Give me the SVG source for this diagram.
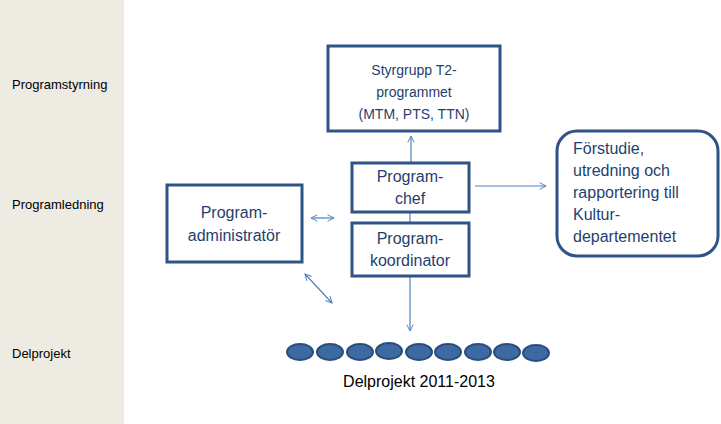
<svg xmlns="http://www.w3.org/2000/svg" width="721" height="424" viewBox="0 0 721 424">
<defs>
<marker id="a" viewBox="0 0 10 10" refX="9" refY="5" markerWidth="8" markerHeight="8" orient="auto-start-reverse" markerUnits="userSpaceOnUse"><path d="M1,1 L9,5 L1,9" fill="none" stroke="#4f81bd" stroke-width="1.2"/></marker>
</defs>
<style>
.b{fill:#fff;stroke:#2e5386;stroke-width:3}
.t{font-family:"Liberation Sans",Arial,sans-serif;fill:#1f3f6e;text-anchor:middle}
.l{font-family:"Liberation Sans",Arial,sans-serif;fill:#000;font-size:13px}
.c{stroke:#4f81bd;stroke-width:1.2;fill:none}
.e{fill:#3d6aa3;stroke:#2a4d7d;stroke-width:2}
</style>
<rect width="721" height="424" fill="#fff"/>
<rect width="124" height="424" fill="#eeebe2"/>
<text class="l" x="12" y="89">Programstyrning</text>
<text class="l" x="12" y="209">Programledning</text>
<text class="l" x="12" y="358">Delprojekt</text>
<g id="connectors">
<line class="c" x1="411" y1="162" x2="411" y2="136" marker-end="url(#a)"/>
<line class="c" x1="410" y1="212" x2="410" y2="222"/>
<line class="c" x1="410" y1="276" x2="410" y2="331" marker-end="url(#a)"/>
<line class="c" x1="475" y1="186" x2="546" y2="186" marker-end="url(#a)"/>
<line class="c" x1="311" y1="218" x2="334" y2="218" marker-start="url(#a)" marker-end="url(#a)"/>
<line class="c" x1="305" y1="274" x2="332" y2="303" marker-start="url(#a)" marker-end="url(#a)"/>
</g>
<g id="styrgrupp"><rect class="b" x="328" y="46" width="172" height="85"/>
<text class="t" font-size="14" x="414" y="75">Styrgrupp  T2-</text>
<text class="t" font-size="14" x="414" y="97">programmet</text>
<text class="t" font-size="14" x="414" y="119">(MTM, PTS,  TTN)</text></g>
<g id="programchef"><rect class="b" x="352" y="163" width="117" height="49"/>
<text class="t" font-size="16" x="410" y="182">Program-</text>
<text class="t" font-size="16" x="410" y="204">chef</text></g>
<g id="koordinator"><rect class="b" x="352" y="223" width="117" height="53"/>
<text class="t" font-size="16" x="410" y="244">Program-</text>
<text class="t" font-size="16" x="410" y="266">koordinator</text></g>
<g id="admin"><rect class="b" x="167" y="185" width="135" height="77"/>
<text class="t" font-size="16" x="234" y="218">Program-</text>
<text class="t" font-size="16" x="234" y="241">administratör</text></g>
<g id="forstudie"><rect class="b" x="557" y="131" width="161" height="125" rx="20"/>
<g class="t" font-size="16" text-anchor="start" style="text-anchor:start">
<text x="573" y="154">Förstudie,</text>
<text x="573" y="176">utredning och</text>
<text x="573" y="198">rapportering till</text>
<text x="573" y="220">Kultur-</text>
<text x="573" y="242">departementet</text></g></g>
<g id="delprojekt">
<ellipse class="e" cx="300" cy="352" rx="13" ry="8"/>
<ellipse class="e" cx="330" cy="352" rx="13" ry="8"/>
<ellipse class="e" cx="360" cy="352" rx="13" ry="8"/>
<ellipse class="e" cx="389" cy="351" rx="13" ry="8"/>
<ellipse class="e" cx="419" cy="352" rx="13" ry="8"/>
<ellipse class="e" cx="448" cy="352" rx="13" ry="8"/>
<ellipse class="e" cx="478" cy="352" rx="13" ry="8"/>
<ellipse class="e" cx="507" cy="352" rx="13" ry="8"/>
<ellipse class="e" cx="536" cy="353" rx="13" ry="8"/>
<text x="419" y="387" font-family="Liberation Sans,Arial,sans-serif" font-size="16" text-anchor="middle" fill="#000">Delprojekt 2011-2013</text>
</g>
</svg>
